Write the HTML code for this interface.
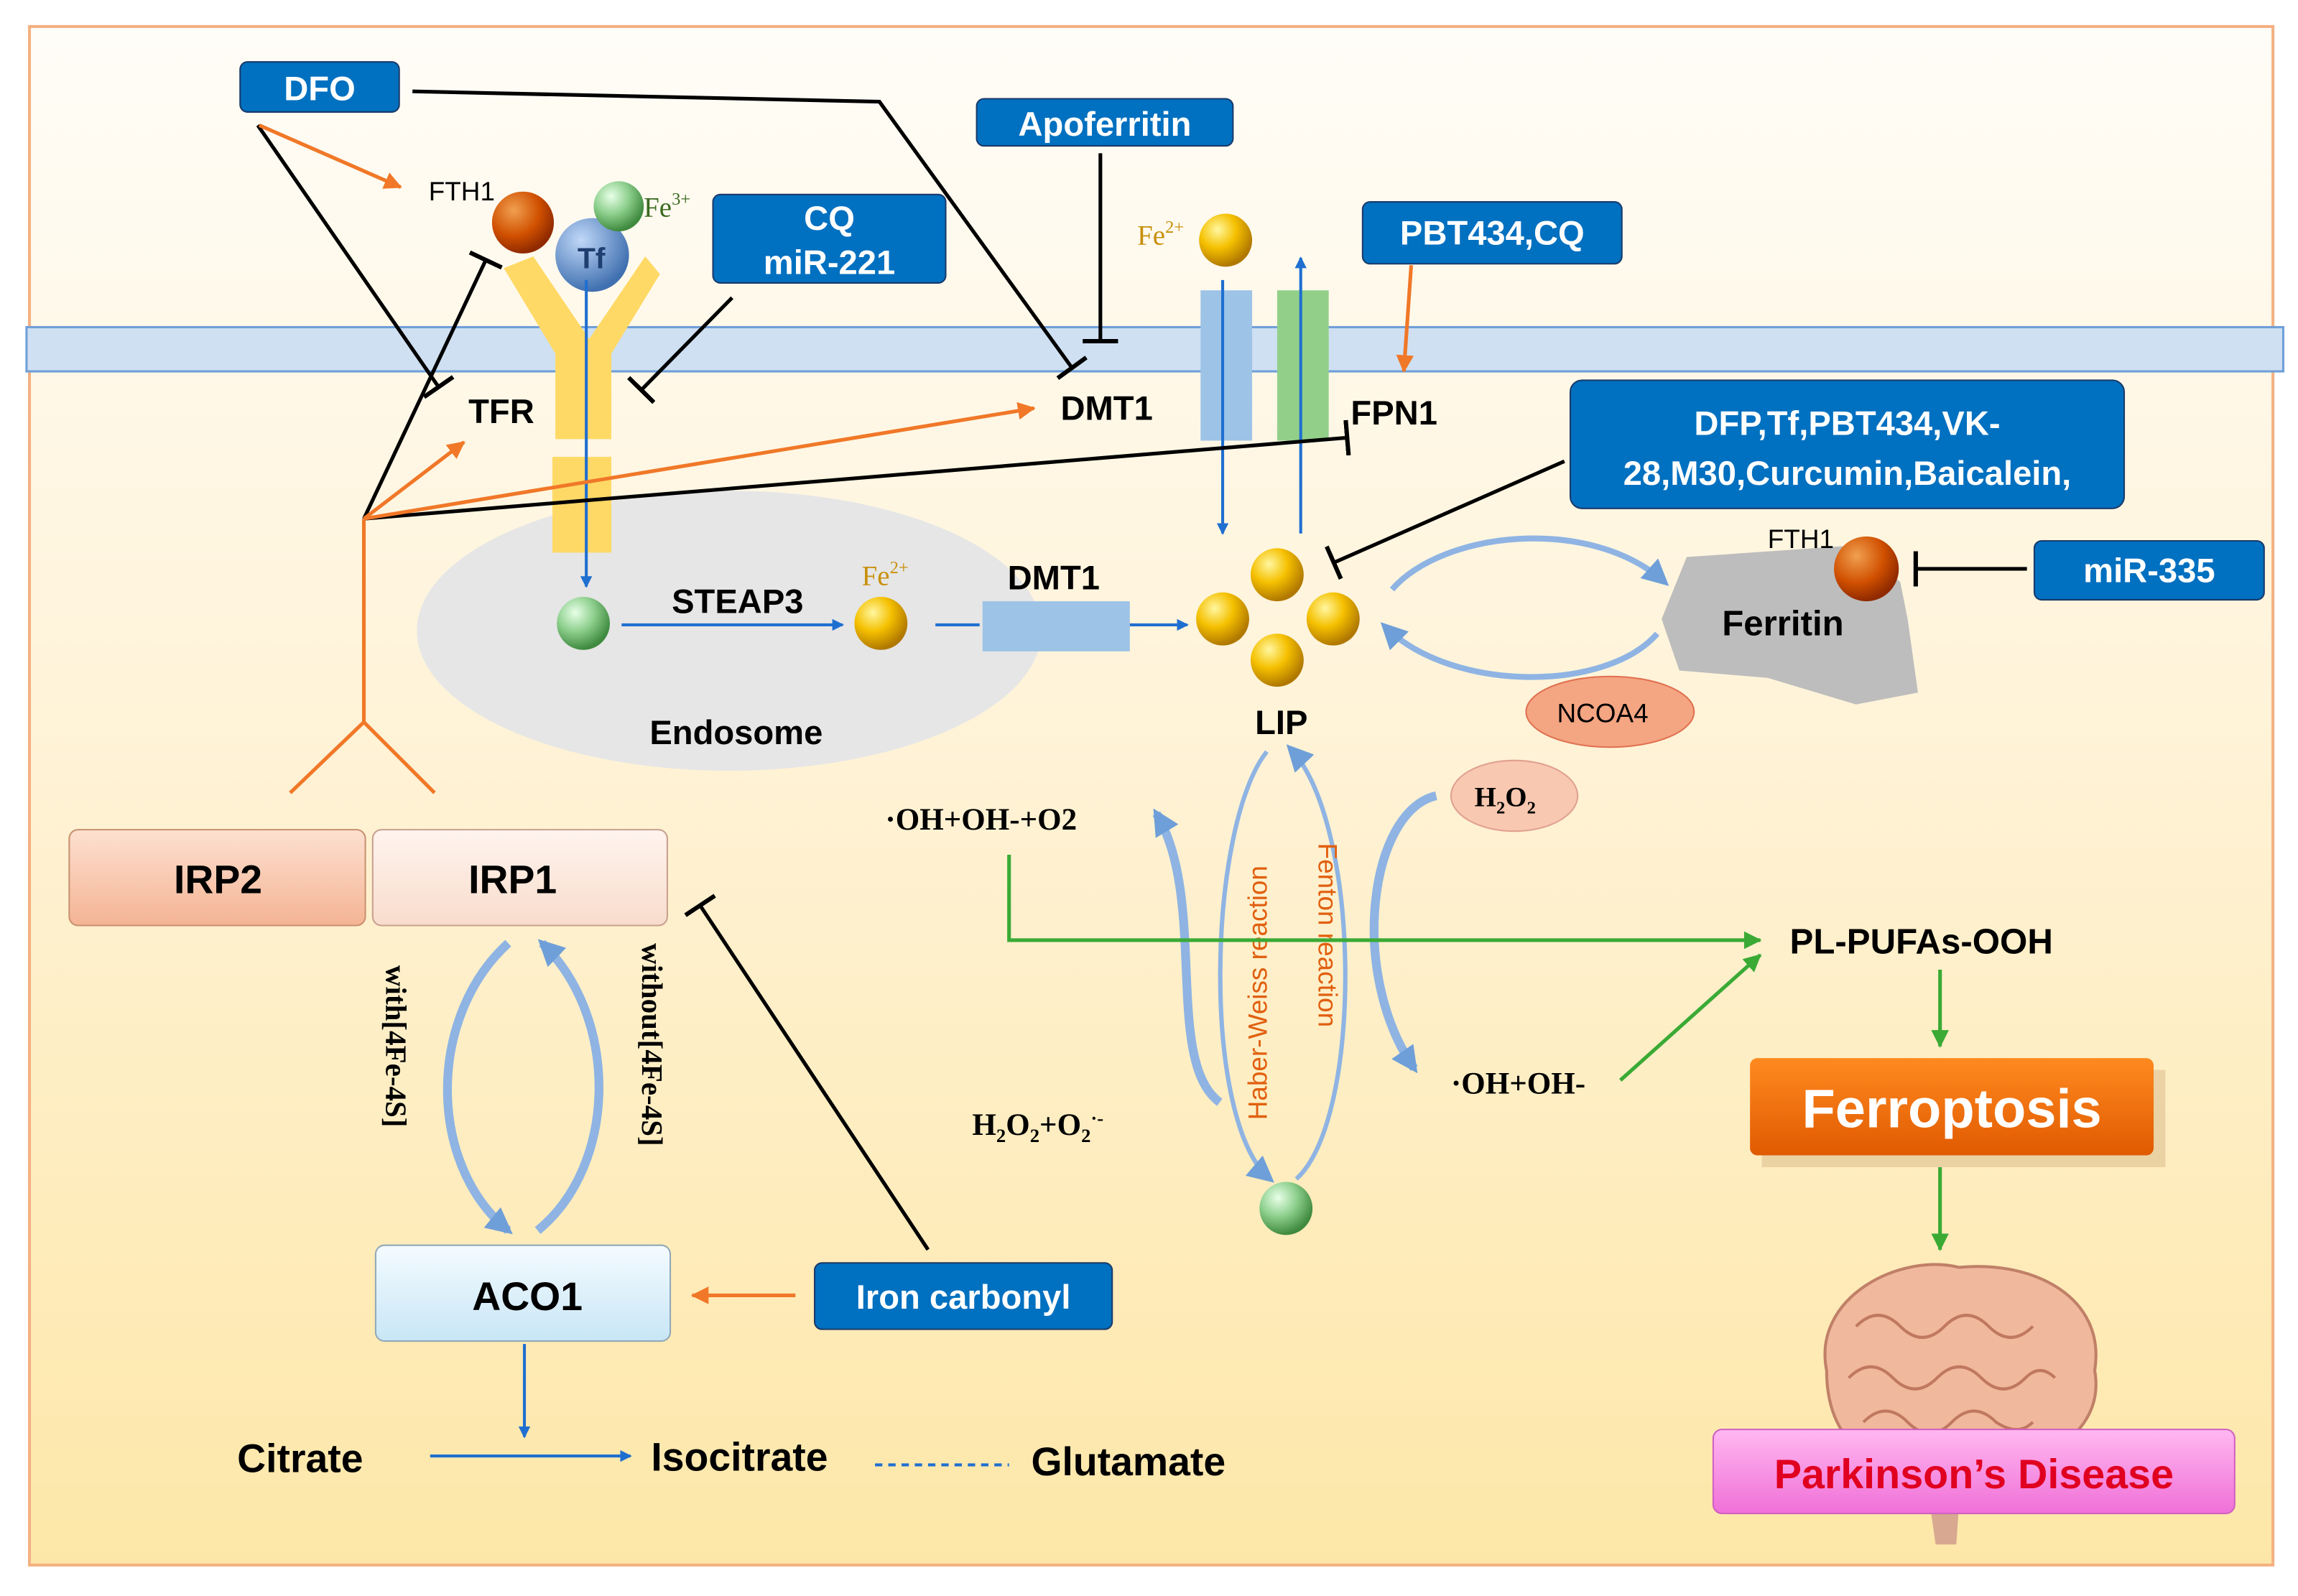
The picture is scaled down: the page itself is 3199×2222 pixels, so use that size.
<!DOCTYPE html>
<html><head><meta charset="utf-8"><style>
html,body{margin:0;padding:0;background:#fff;}
svg{display:block;}
text{font-family:"Liberation Sans",sans-serif;}
.s{font-family:"Liberation Serif",serif;font-weight:bold;}
</style></head><body>
<svg width="3199" height="2222" viewBox="0 0 1560 1083" preserveAspectRatio="none" xmlns="http://www.w3.org/2000/svg">
<defs>
<linearGradient id="bg" x1="0" y1="0" x2="0" y2="1"><stop offset="0" stop-color="#fffdf8"/><stop offset="0.45" stop-color="#fff3d8"/><stop offset="1" stop-color="#fde7a8"/></linearGradient>
<radialGradient id="gold" cx="0.35" cy="0.3" r="0.7"><stop offset="0" stop-color="#fff7a0"/><stop offset="0.5" stop-color="#f5c000"/><stop offset="1" stop-color="#b07800"/></radialGradient>
<radialGradient id="grn" cx="0.35" cy="0.3" r="0.7"><stop offset="0" stop-color="#e8ffe8"/><stop offset="0.5" stop-color="#8fd08f"/><stop offset="1" stop-color="#3f8a3f"/></radialGradient>
<radialGradient id="org" cx="0.35" cy="0.3" r="0.7"><stop offset="0" stop-color="#f0a050"/><stop offset="0.6" stop-color="#d05000"/><stop offset="1" stop-color="#902a00"/></radialGradient>
<radialGradient id="tf" cx="0.35" cy="0.3" r="0.7"><stop offset="0" stop-color="#c0d8f8"/><stop offset="1" stop-color="#4070b0"/></radialGradient>
<linearGradient id="irp2" x1="0" y1="0" x2="0" y2="1"><stop offset="0" stop-color="#fde0d0"/><stop offset="1" stop-color="#f4b494"/></linearGradient>
<linearGradient id="irp1" x1="0" y1="0" x2="0" y2="1"><stop offset="0" stop-color="#fff4ee"/><stop offset="1" stop-color="#f8dccc"/></linearGradient>
<linearGradient id="aco" x1="0" y1="0" x2="0" y2="1"><stop offset="0" stop-color="#f4fbff"/><stop offset="1" stop-color="#c8e6f6"/></linearGradient>
<linearGradient id="fer" x1="0" y1="0" x2="0" y2="1"><stop offset="0" stop-color="#ff8a20"/><stop offset="1" stop-color="#e05a00"/></linearGradient>
<linearGradient id="pd" x1="0" y1="0" x2="0" y2="1"><stop offset="0" stop-color="#ffb8f0"/><stop offset="1" stop-color="#f070d8"/></linearGradient>
<marker id="ab" markerWidth="8" markerHeight="8" refX="7" refY="4" orient="auto" markerUnits="userSpaceOnUse"><path d="M0,0 L8,4 L0,8 z" fill="#1f6fd0"/></marker>
<marker id="ao" markerWidth="12" markerHeight="12" refX="11" refY="6" orient="auto" markerUnits="userSpaceOnUse"><path d="M0,0 L12,6 L0,12 z" fill="#f07828"/></marker>
<marker id="ag" markerWidth="12" markerHeight="12" refX="11" refY="6" orient="auto" markerUnits="userSpaceOnUse"><path d="M0,0 L12,6 L0,12 z" fill="#3aaa35"/></marker>
<marker id="tb" markerWidth="4" markerHeight="24" refX="2" refY="12" orient="auto" markerUnits="userSpaceOnUse"><rect x="0" y="0" width="3" height="24" fill="#000"/></marker>
<marker id="aw" markerWidth="18" markerHeight="18" refX="14" refY="9" orient="auto" markerUnits="userSpaceOnUse"><path d="M0,0 L18,9 L0,18 z" fill="#6f9fd8"/></marker>
</defs>
<rect width="1560" height="1083" fill="#fff"/>
<rect x="20" y="18" width="1523" height="1044" fill="url(#bg)" stroke="#f4b183" stroke-width="2"/>
<rect x="18" y="222" width="1532" height="30" fill="#cfe0f2" stroke="#6f9fd8" stroke-width="1.5"/>
<ellipse cx="495" cy="428" rx="212" ry="95" fill="#e6e6e6"/>
<path d="M342,182 L362,174 L400,230 L438,174 L448,186 L415,240 L415,298 L377,298 L377,240 Z" fill="#ffd966"/>
<rect x="375" y="310" width="40" height="65" fill="#ffd966"/>
<circle cx="355" cy="151" r="21" fill="url(#org)"/>
<circle cx="402" cy="173" r="25" fill="url(#tf)"/>
<circle cx="420" cy="140" r="17" fill="url(#grn)"/>
<text x="392" y="182" font-size="20" font-weight="bold" fill="#1f3f70">Tf</text>
<text x="291" y="136" font-size="18">FTH1</text>
<text x="437" y="147" class="s" font-size="19" fill="#3a6a20" style="font-weight:normal">Fe<tspan font-size="12" dy="-8">3+</tspan></text>
<line x1="398" y1="190" x2="398" y2="398" stroke="#1f6fd0" stroke-width="2" marker-end="url(#ab)"/>
<circle cx="396" cy="423" r="18" fill="url(#grn)"/>
<text x="456" y="416" font-size="23" font-weight="bold">STEAP3</text>
<line x1="422" y1="424" x2="572" y2="424" stroke="#1f6fd0" stroke-width="2" marker-end="url(#ab)"/>
<circle cx="598" cy="423" r="18" fill="url(#gold)"/>
<text x="585" y="397" class="s" font-size="19" fill="#c8900a" style="font-weight:normal">Fe<tspan font-size="12" dy="-8">2+</tspan></text>
<line x1="635" y1="424" x2="665" y2="424" stroke="#1f6fd0" stroke-width="2"/>
<rect x="667" y="408" width="100" height="34" fill="#9dc3e6"/>
<line x1="767" y1="424" x2="806" y2="424" stroke="#1f6fd0" stroke-width="2" marker-end="url(#ab)"/>
<text x="684" y="400" font-size="23" font-weight="bold">DMT1</text>
<text x="441" y="505" font-size="23" font-weight="bold">Endosome</text>
<rect x="815" y="197" width="35" height="102" fill="#9dc3e6"/>
<rect x="867" y="197" width="35" height="102" fill="#92d08a"/>
<line x1="830" y1="190" x2="830" y2="362" stroke="#1f6fd0" stroke-width="2" marker-end="url(#ab)"/>
<line x1="883" y1="362" x2="883" y2="175" stroke="#1f6fd0" stroke-width="2" marker-end="url(#ab)"/>
<circle cx="832" cy="163" r="18" fill="url(#gold)"/>
<text x="772" y="166" class="s" font-size="19" fill="#c8900a" style="font-weight:normal">Fe<tspan font-size="12" dy="-8">2+</tspan></text>
<text x="720" y="285" font-size="23" font-weight="bold">DMT1</text>
<text x="917" y="288" font-size="23" font-weight="bold">FPN1</text>
<text x="318" y="287" font-size="23" font-weight="bold">TFR</text>
<circle cx="867" cy="390" r="18" fill="url(#gold)"/>
<circle cx="830" cy="420" r="18" fill="url(#gold)"/>
<circle cx="905" cy="420" r="18" fill="url(#gold)"/>
<circle cx="867" cy="448" r="18" fill="url(#gold)"/>
<text x="852" y="498" font-size="23" font-weight="bold">LIP</text>
<path d="M945,400 C980,360 1080,350 1130,395" fill="none" stroke="#8fb4e3" stroke-width="4" marker-end="url(#aw)"/>
<path d="M1125,430 C1090,470 985,470 940,425" fill="none" stroke="#8fb4e3" stroke-width="4" marker-end="url(#aw)"/>
<path d="M1145,378 L1260,370 L1290,395 L1295,420 L1302,470 L1260,478 L1200,460 L1140,455 L1128,420 Z" fill="#bdbdbd"/>
<circle cx="1267" cy="386" r="22" fill="url(#org)"/>
<text x="1200" y="372" font-size="18">FTH1</text>
<text x="1169" y="431" font-size="24" font-weight="bold">Ferritin</text>
<ellipse cx="1093" cy="483" rx="57" ry="24" fill="#f4a582" stroke="#e07050"/>
<text x="1057" y="490" font-size="18">NCOA4</text>
<ellipse cx="1028" cy="540" rx="43" ry="24" fill="#f8c8b0" stroke="#e0a090"/>
<text x="1001" y="547" class="s" font-size="19">H<tspan font-size="12" dy="5">2</tspan><tspan dy="-5">O</tspan><tspan font-size="12" dy="5">2</tspan></text>
<g fill="#0070c0" stroke="#1a3a6a" stroke-width="1">
<rect x="163" y="42" width="108" height="34" rx="5"/>
<rect x="663" y="67" width="174" height="32" rx="5"/>
<rect x="484" y="132" width="158" height="60" rx="5"/>
<rect x="925" y="137" width="176" height="42" rx="5"/>
<rect x="1066" y="258" width="376" height="87" rx="8"/>
<rect x="1381" y="367" width="156" height="40" rx="5"/>
<rect x="553" y="857" width="202" height="45" rx="5"/>
</g>
<g fill="#fff" font-size="23" font-weight="bold" text-anchor="middle">
<text x="217" y="68">DFO</text>
<text x="750" y="92">Apoferritin</text>
<text x="563" y="156">CQ</text>
<text x="563" y="186">miR-221</text>
<text x="1013" y="166">PBT434,CQ</text>
<text x="1254" y="295">DFP,Tf,PBT434,VK-</text>
<text x="1254" y="329">28,M30,Curcumin,Baicalein,</text>
<text x="1459" y="395">miR-335</text>
<text x="654" y="888">Iron carbonyl</text>
</g>
<g stroke="#000" stroke-width="2.5" fill="none">
<polyline points="280,62 597,69 728,250" marker-end="url(#tb)"/>
<line x1="175" y1="85" x2="298" y2="263" marker-end="url(#tb)"/>
<line x1="497" y1="202" x2="435" y2="265" marker-end="url(#tb)"/>
<line x1="747" y1="104" x2="747" y2="232" marker-end="url(#tb)"/>
<line x1="1062" y1="313" x2="905" y2="382" marker-end="url(#tb)"/>
<line x1="1376" y1="386" x2="1300" y2="386" marker-end="url(#tb)"/>
<line x1="630" y1="848" x2="475" y2="614" marker-end="url(#tb)"/>
<line x1="247" y1="352" x2="915" y2="297" marker-end="url(#tb)"/>
<line x1="247" y1="352" x2="330" y2="176" marker-end="url(#tb)"/>
</g>
<g stroke="#f07828" stroke-width="2.5" fill="none">
<line x1="176" y1="85" x2="272" y2="127" marker-end="url(#ao)"/>
<line x1="247" y1="352" x2="315" y2="300" marker-end="url(#ao)"/>
<line x1="247" y1="352" x2="702" y2="277" marker-end="url(#ao)"/>
<line x1="958" y1="180" x2="953" y2="252" marker-end="url(#ao)"/>
<line x1="540" y1="879" x2="470" y2="879" marker-end="url(#ao)"/>
<polyline points="247,352 247,490 197,538"/>
<line x1="247" y1="490" x2="295" y2="538"/>
</g>
<rect x="47" y="563" width="201" height="65" rx="6" fill="url(#irp2)" stroke="#c89070"/>
<rect x="253" y="563" width="200" height="65" rx="6" fill="url(#irp1)" stroke="#c8a090"/>
<rect x="255" y="845" width="200" height="65" rx="6" fill="url(#aco)" stroke="#90a8b8"/>
<text x="148" y="606" font-size="27" font-weight="bold" text-anchor="middle">IRP2</text>
<text x="348" y="606" font-size="27" font-weight="bold" text-anchor="middle">IRP1</text>
<text x="358" y="889" font-size="27" font-weight="bold" text-anchor="middle">ACO1</text>
<path d="M345,640 C290,690 290,790 345,835" fill="none" stroke="#8fb4e3" stroke-width="6" marker-end="url(#aw)"/>
<path d="M365,835 C420,790 420,690 368,640" fill="none" stroke="#8fb4e3" stroke-width="6" marker-end="url(#aw)"/>
<text transform="translate(262,655) rotate(90)" class="s" font-size="20">with[4Fe-4S]</text>
<text transform="translate(436,640) rotate(90)" class="s" font-size="20">without[4Fe-4S]</text>
<line x1="356" y1="912" x2="356" y2="975" stroke="#1f6fd0" stroke-width="2" marker-end="url(#ab)"/>
<text x="161" y="999" font-size="27" font-weight="bold">Citrate</text>
<line x1="292" y1="988" x2="428" y2="988" stroke="#1f6fd0" stroke-width="2" marker-end="url(#ab)"/>
<text x="442" y="998" font-size="27" font-weight="bold">Isocitrate</text>
<line x1="594" y1="994" x2="685" y2="994" stroke="#1f6fd0" stroke-width="2" stroke-dasharray="5,4"/>
<text x="700" y="1001" font-size="27" font-weight="bold">Glutamate</text>
<path d="M860,510 C820,560 815,760 862,800" fill="none" stroke="#8fb4e3" stroke-width="3" marker-end="url(#aw)"/>
<path d="M880,800 C925,760 925,560 876,508" fill="none" stroke="#8fb4e3" stroke-width="3" marker-end="url(#aw)"/>
<circle cx="873" cy="820" r="18" fill="url(#grn)"/>
<text transform="translate(860,760) rotate(-90)" font-size="18" fill="#e06010">Haber-Weiss reaction</text>
<text transform="translate(895,572) rotate(90)" font-size="18" fill="#e06010">Fenton reaction</text>
<path d="M828,748 C790,720 820,610 785,552" fill="none" stroke="#8fb4e3" stroke-width="6" marker-end="url(#aw)"/>
<path d="M975,540 C930,550 915,660 960,725" fill="none" stroke="#8fb4e3" stroke-width="6" marker-end="url(#aw)"/>
<text x="601" y="563" class="s" font-size="21">·OH+OH-+O2</text>
<text x="660" y="770" class="s" font-size="21">H<tspan font-size="13" dy="5">2</tspan><tspan dy="-5">O</tspan><tspan font-size="13" dy="5">2</tspan><tspan dy="-5">+O</tspan><tspan font-size="13" dy="5">2</tspan><tspan font-size="13" dy="-12">·-</tspan></text>
<text x="985" y="742" class="s" font-size="21">·OH+OH-</text>
<g stroke="#3aaa35" stroke-width="2.5" fill="none">
<polyline points="685,580 685,638 1195,638" marker-end="url(#ag)"/>
<line x1="1100" y1="733" x2="1195" y2="648" marker-end="url(#ag)"/>
<line x1="1317" y1="658" x2="1317" y2="710" marker-end="url(#ag)"/>
<line x1="1317" y1="792" x2="1317" y2="848" marker-end="url(#ag)"/>
</g>
<text x="1215" y="647" font-size="24" font-weight="bold">PL-PUFAs-OOH</text>
<rect x="1196" y="726" width="274" height="66" fill="#c8a070" opacity="0.35"/>
<rect x="1188" y="718" width="274" height="66" rx="5" fill="url(#fer)"/>
<text x="1325" y="765" font-size="37" font-weight="bold" fill="#fff" text-anchor="middle">Ferroptosis</text>
<path d="M1310,1020 L1330,1020 L1328,1048 L1314,1048 Z" fill="#d8a890"/>
<path d="M1240,930 C1230,880 1290,850 1330,860 C1380,855 1430,880 1422,930 C1430,975 1380,1000 1330,995 C1280,1005 1240,985 1240,930 Z" fill="#f0b89c" stroke="#c08068" stroke-width="2"/>
<path d="M1260,900 q15,-15 30,0 q15,15 30,0 q15,-15 30,0 q15,15 30,0 M1255,935 q15,-15 30,0 q15,15 30,0 q15,-15 30,0 q15,15 30,0 q10,-10 20,0 M1265,965 q15,-15 30,0 q15,15 30,0 q15,-15 30,0 q15,10 25,0" fill="none" stroke="#c07860" stroke-width="2"/>
<rect x="1163" y="970" width="354" height="57" rx="6" fill="url(#pd)" stroke="#d060c0"/>
<text x="1340" y="1010" font-size="28" font-weight="bold" fill="#e00020" text-anchor="middle">Parkinson’s Disease</text>
</svg>
</body></html>
